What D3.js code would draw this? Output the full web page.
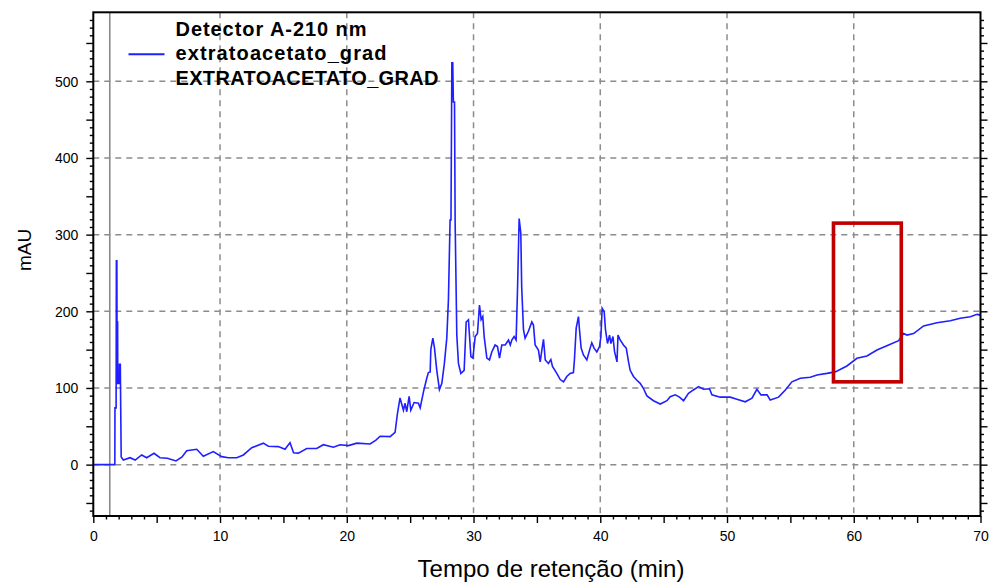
<!DOCTYPE html>
<html>
<head>
<meta charset="utf-8">
<script src="https://cdn.jsdelivr.net/npm/d3@7"></script>
<style>
  html, body { margin: 0; padding: 0; background: #fff; }
  svg { display: block; font-family: "Liberation Sans", Arial, sans-serif; }
</style>
</head>
<body>
<svg id="chart" width="990" height="582"></svg>
<script>
// Chromatogram, detector A at 210 nm
const retentionTime = [
  0, 1.70, 1.71, 1.80, 1.82, 1.86, 1.87, 1.92, 1.93, 2.05, 2.06, 2.13, 2.20, 2.37, 2.9, 3.3, 3.82, 4.21,
  4.79, 5.26, 5.84, 6.53, 7.0, 7.37, 8.16, 8.68, 9.47, 10.13, 10.66, 11.32, 11.84, 12.5, 13.42, 13.81,
  14.6, 15.13, 15.52, 15.8, 16.18, 16.84, 17.63, 18.15, 18.94, 19.47, 20.13, 20.79, 21.84, 22.3, 22.63,
  23.42, 23.81, 24.0, 24.2, 24.47, 24.6, 24.73, 24.92, 25.05, 25.31, 25.65, 25.79, 26.05, 26.3, 26.44,
  26.58, 26.63, 26.79, 26.92, 27.1, 27.31, 27.5, 27.7, 27.89, 28.02, 28.15, 28.22, 28.29, 28.36, 28.41,
  28.5, 28.55, 28.68, 28.81, 29.0, 29.26, 29.42, 29.6, 29.79, 29.95, 30.13, 30.31, 30.47, 30.6, 30.73,
  30.84, 31.05, 31.26, 31.44, 31.7, 31.89, 32.05, 32.23, 32.5, 32.76, 32.9, 33.02, 33.2, 33.36, 33.47,
  33.6, 33.73, 33.8, 33.94, 34.07, 34.33, 34.6, 34.73, 34.86, 35.12, 35.26, 35.39, 35.52, 35.66, 35.91,
  36.1, 36.23, 36.57, 36.84, 37.1, 37.36, 37.62, 37.88, 37.96, 38.1, 38.28, 38.36, 38.49, 38.67, 38.94,
  39.2, 39.33, 39.51, 39.73, 39.94, 40.05, 40.15, 40.31, 40.41, 40.57, 40.73, 40.84, 41.0, 41.13, 41.32,
  41.4, 41.57, 41.83, 42.05, 42.23, 42.36, 42.62, 42.89, 43.15, 43.4, 43.68, 44.2, 44.73, 45.26, 45.52,
  45.91, 46.25, 46.57, 46.96, 47.35, 47.75, 48.15, 48.62, 48.81, 49.46, 50.25, 50.78, 51.44, 51.97,
  52.36, 52.68, 53.16, 53.41, 54.07, 54.6, 55.12, 55.78, 56.57, 57.1, 57.88, 58.54, 59.46, 60.25, 61.04,
  61.83, 62.75, 63.54, 63.93, 64.2, 64.72, 65.51, 66.57, 67.62, 68.4, 69.2, 69.73, 70
];
const absorbance = [
  0, 0, 74, 74, 266, 266, 186, 186, 106, 106, 131, 131, 10, 6, 9, 6, 12.6, 9,
  14.8, 9, 8.3, 4.8, 10, 18, 20, 11, 17, 10.4, 9, 9, 12.6, 22, 28, 24,
  23.5, 20, 28.7, 15.6, 15, 21, 21, 26, 22.7, 26, 24.8, 28, 27, 32, 37,
  36.5, 42, 67, 87, 71, 80, 69, 89, 71, 81, 80, 74, 95, 112, 120,
  121, 150, 165, 152, 123, 98, 106, 132, 165, 215, 319, 319, 524, 524, 473,
  473, 315, 169, 132, 119, 123, 186, 189, 141, 139, 167, 171, 208, 189, 193,
  167, 139, 136.5, 147, 156, 154, 139, 156, 156, 162.6, 156, 162.6, 167, 162.6, 228,
  321, 302, 232, 176, 165, 174, 186, 182, 156, 149.5, 134, 149.5, 163.5, 136.5, 132,
  137, 128, 119, 111, 108, 115, 119, 120, 136.5, 178, 193, 176, 152, 143, 136.5,
  152, 159, 152, 147, 154, 167, 204, 199.5, 176, 158, 169, 158, 167, 147, 134,
  169, 162.6, 156, 152, 134, 123, 115, 110, 106, 99.6, 89.6, 83.4, 79, 83.4, 88.7,
  91, 88, 83.4, 93, 97.4, 101.7, 98.3, 99, 91, 88, 88, 85.3, 82, 86.6,
  98.3, 91, 91, 84.4, 88, 97.4, 108, 112.6, 114, 117, 119, 121, 128.7, 138.7, 141.7,
  149.5, 156, 161.7, 171, 169, 171, 181, 185, 187.7, 191, 193, 196, 195
];

// Axis ranges, labelled ticks and gridlines
const timeDomain = [0, 70];
const mauDomain = [-67, 590];
const xLabelTicks = [0, 10, 20, 30, 40, 50, 60, 70];
const yLabelTicks = [0, 100, 200, 300, 400, 500];
const xGridLines = [10, 20, 30, 40, 50, 60];
const yGridLines = [0, 100, 200, 300, 400, 500];
const injectionMarker = [1.3];

// Highlighted window (min, mAU)
const boxTime = [58.4, 63.75];
const boxMau = [108, 315];

// Legend lines
const legendTitle = "Detector A-210 nm";
const legendSeries = ["extratoacetato_grad", "EXTRATOACETATO_GRAD"];

const xAxisTitle = "Tempo de retenção (min)";
const yAxisTitle = "mAU";

const plotLeft = 93.3, plotRight = 980.5, plotTop = 12.3, plotBottom = 516;
const svg = d3.select("#chart");

const x = d3.scaleLinear().domain(timeDomain).range([plotLeft, plotRight]);
const y = d3.scaleLinear().domain(mauDomain).range([plotBottom, plotTop]);

// Gridlines
const grid = svg.append("g")
  .attr("stroke", "#8c8c8c").attr("stroke-width", 1.5)
  .attr("stroke-dasharray", "6,5").attr("fill", "none");
grid.selectAll("line.v").data(xGridLines).join("line").attr("class", "v")
  .attr("x1", d => x(d)).attr("x2", d => x(d))
  .attr("y1", plotTop).attr("y2", plotBottom);
grid.selectAll("line.h").data(yGridLines).join("line").attr("class", "h")
  .attr("x1", plotLeft).attr("x2", plotRight)
  .attr("y1", d => y(d)).attr("y2", d => y(d));

// Injection marker
svg.append("g").selectAll("line").data(injectionMarker).join("line")
  .attr("x1", d => x(d)).attr("x2", d => x(d))
  .attr("y1", plotTop).attr("y2", plotBottom)
  .attr("stroke", "#8a8a8a").attr("stroke-width", 1.6);

// Legend
const legend = svg.append("g").attr("font-weight", "bold").attr("font-size", 20).attr("fill", "#000");
legend.append("text").attr("x", 175.5).attr("y", 36).attr("textLength", 191).text(legendTitle);
legend.append("text").attr("x", 175.5).attr("y", 60).attr("textLength", 211).text(legendSeries[0]);
legend.append("text").attr("x", 175.5).attr("y", 85).attr("textLength", 263).text(legendSeries[1]);
legend.append("line")
  .attr("x1", 128.5).attr("x2", 164.5).attr("y1", 54.3).attr("y2", 54.3)
  .attr("stroke", "#1f1fff").attr("stroke-width", 2);

// Signal trace
const signal = retentionTime.map((t, i) => [t, absorbance[i]]);
svg.append("path")
  .datum(signal)
  .attr("fill", "none")
  .attr("stroke", "#1f1fff")
  .attr("stroke-width", 1.6)
  .attr("stroke-linejoin", "miter")
  .attr("d", d3.line().x(d => x(d[0])).y(d => y(d[1])));

// Highlight box
svg.append("rect")
  .attr("x", x(boxTime[0])).attr("y", y(boxMau[1]))
  .attr("width", x(boxTime[1]) - x(boxTime[0]))
  .attr("height", y(boxMau[0]) - y(boxMau[1]))
  .attr("fill", "none").attr("stroke", "#c00000").attr("stroke-width", 3.6);

// Axes
const tickLen = (d, step) => (Math.abs(d % step) < 1e-9 ? 7 : 3.5);

const xAxis = svg.append("g")
  .attr("transform", `translate(0,${plotBottom})`)
  .call(d3.axisBottom(x)
    .tickValues(d3.range(0, 71, 1))
    .tickFormat(d => xLabelTicks.includes(d) ? d : "")
    .tickSizeOuter(0));
xAxis.select(".domain").remove();
xAxis.selectAll(".tick line").attr("y2", d => tickLen(d, 5)).attr("stroke", "#000").attr("stroke-width", 1.4);
xAxis.selectAll(".tick text").attr("y", 15).attr("dy", "0.71em")
  .attr("font-size", 14).attr("font-family", "Liberation Sans, Arial, sans-serif").attr("fill", "#000");

const yAxis = svg.append("g")
  .attr("transform", `translate(${plotLeft},0)`)
  .call(d3.axisLeft(y)
    .tickValues(d3.range(-60, 590, 10))
    .tickFormat(d => yLabelTicks.includes(d) ? d : "")
    .tickSizeOuter(0));
yAxis.select(".domain").remove();
yAxis.selectAll(".tick line").attr("x2", d => -tickLen(d, 50)).attr("stroke", "#000").attr("stroke-width", 1.4);
yAxis.selectAll(".tick text").attr("x", -15).attr("dy", "0.34em")
  .attr("font-size", 14).attr("font-family", "Liberation Sans, Arial, sans-serif").attr("fill", "#000");

const yAxisRight = svg.append("g")
  .attr("transform", `translate(${plotRight},0)`)
  .call(d3.axisRight(y)
    .tickValues(d3.range(-60, 590, 10))
    .tickFormat("")
    .tickSizeOuter(0));
yAxisRight.select(".domain").remove();
yAxisRight.selectAll(".tick line").attr("x2", d => tickLen(d, 50)).attr("stroke", "#000").attr("stroke-width", 1.4);

// Plot frame
svg.append("rect")
  .attr("x", plotLeft).attr("y", plotTop)
  .attr("width", plotRight - plotLeft).attr("height", plotBottom - plotTop)
  .attr("fill", "none").attr("stroke", "#000").attr("stroke-width", 2);

// Axis titles
svg.append("text")
  .attr("x", 551).attr("y", 577)
  .attr("text-anchor", "middle").attr("font-size", 24).attr("fill", "#000")
  .text(xAxisTitle);
svg.append("text")
  .attr("transform", "translate(31,250) rotate(-90)")
  .attr("text-anchor", "middle").attr("font-size", 19).attr("fill", "#000")
  .text(yAxisTitle);
</script>
</body>
</html>
